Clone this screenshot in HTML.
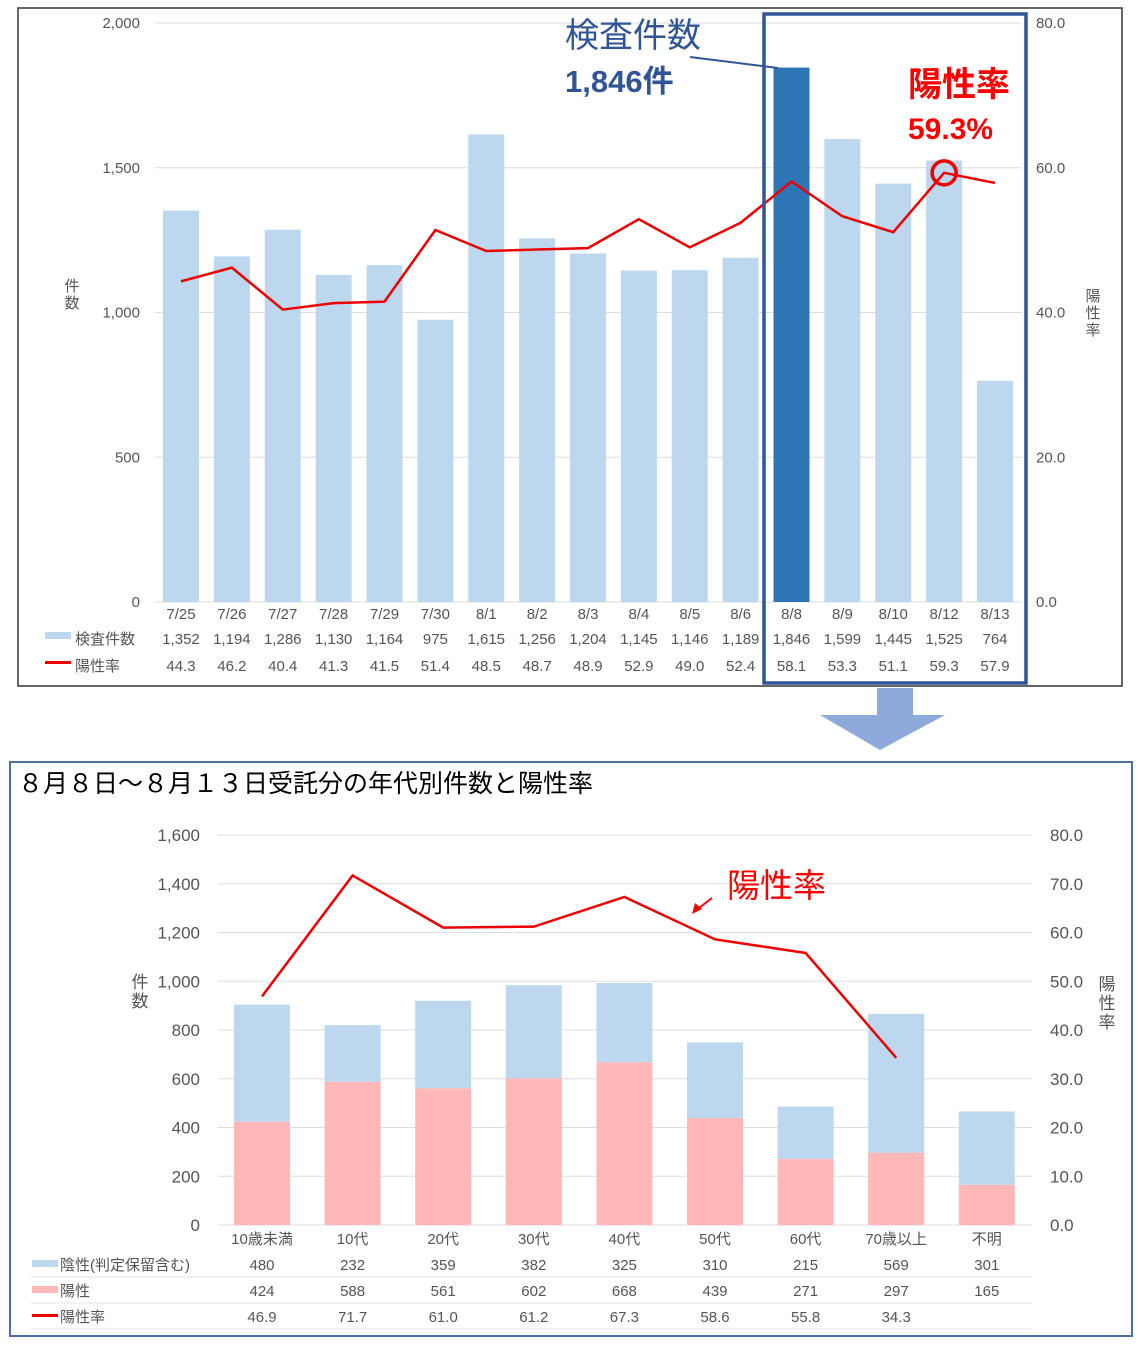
<!DOCTYPE html>
<html><head><meta charset="utf-8"><style>
body{margin:0;background:#fff;font-family:"Liberation Sans","Noto Sans CJK JP",sans-serif;}
svg text{font-family:"Liberation Sans","Noto Sans CJK JP",sans-serif;}
</style></head><body>
<svg id="s" width="1140" height="1344" xmlns="http://www.w3.org/2000/svg">
<rect x="18" y="8" width="1104" height="678" fill="#fff" stroke="#333" stroke-width="1.5"/>
<g id="top"></g>
<rect x="764" y="14" width="262" height="669" fill="none" stroke="#2f5597" stroke-width="3.5"/>
<text x="565" y="47" font-size="34" fill="#2f5597">検査件数</text>
<text x="565" y="92" font-size="31" font-weight="bold" fill="#2f5597">1,846件</text>
<line x1="690" y1="57" x2="778" y2="68" stroke="#2f5597" stroke-width="2"/>
<text x="908" y="96" font-size="34" font-weight="bold" fill="#ff0000">陽性率</text>
<text x="908" y="139" font-size="30" font-weight="bold" fill="#ff0000">59.3%</text>
<polygon points="877,688 913,688 913,715 945,715 880,750 820,715 877,715" fill="#8eaadb"/>
<rect x="10" y="762" width="1122" height="574" fill="#fff" stroke="#4a6fa5" stroke-width="2"/>
<text x="18" y="792" font-size="25" fill="#000">８月８日～８月１３日受託分の年代別件数と陽性率</text>
<g id="bot"></g>
<text x="727" y="897" font-size="33" fill="#ff0000">陽性率</text>
<line x1="712" y1="898" x2="695" y2="911" stroke="#ff0000" stroke-width="2"/>
<polygon points="692,914 695,903 702,909" fill="#ff0000"/>
</svg>
<script>
const NS="http://www.w3.org/2000/svg";
const topDates=["7/25","7/26","7/27","7/28","7/29","7/30","8/1","8/2","8/3","8/4","8/5","8/6","8/8","8/9","8/10","8/12","8/13"];
const topCounts=[1352,1194,1286,1130,1164,975,1615,1256,1204,1145,1146,1189,1846,1599,1445,1525,764];
const topRates=[44.3,46.2,40.4,41.3,41.5,51.4,48.5,48.7,48.9,52.9,49.0,52.4,58.1,53.3,51.1,59.3,57.9];
const topLeftTicks=[0,500,1000,1500,2000];
const topRightTicks=[0,20,40,60,80];
const ages=["10歳未満","10代","20代","30代","40代","50代","60代","70歳以上","不明"];
const negVals=[480,232,359,382,325,310,215,569,301];
const posVals=[424,588,561,602,668,439,271,297,165];
const ageRates=[46.9,71.7,61.0,61.2,67.3,58.6,55.8,34.3,null];
const botLeftTicks=[0,200,400,600,800,1000,1200,1400,1600];
const botRightTicks=[0,10,20,30,40,50,60,70,80];
function el(p,t,a,txt){const e=document.createElementNS(NS,t);for(const k in a)e.setAttribute(k,a[k]);if(txt!==undefined)e.textContent=txt;p.appendChild(e);return e;}
const fmt=v=>v.toLocaleString('en-US');
const T=document.getElementById('top');
const ty=v=>602-v*(579/2000), tyr=v=>602-v*(579/80), tx=i=>181+i*50.875;
topLeftTicks.forEach(v=>{
 const g=el(T,'line',{x1:155,x2:1022,y1:ty(v),y2:ty(v),stroke:'#ddd'});
 
 const t=el(T,'text',{x:140,y:ty(v)+5,'font-size':15,fill:'#555','text-anchor':'end'},fmt(v));
 
});
topRightTicks.forEach(v=>{
 const t=el(T,'text',{x:1036,y:tyr(v)+5,'font-size':15,fill:'#555'},v.toFixed(1));
 
});
topCounts.forEach((v,i)=>{
 const b=el(T,'rect',{x:tx(i)-18,y:ty(v),width:36,height:602-ty(v),fill:topDates[i]==='8/8'?'#2e75b6':'#bdd7ee'});
 
 const d=el(T,'text',{x:tx(i),y:619,'font-size':15,fill:'#555','text-anchor':'middle'},topDates[i]);
 
 const c=el(T,'text',{x:tx(i),y:644,'font-size':15,fill:'#555','text-anchor':'middle'},fmt(v));
 
 const r=el(T,'text',{x:tx(i),y:671,'font-size':15,fill:'#555','text-anchor':'middle'},topRates[i].toFixed(1));
 
});
const tl=el(T,'polyline',{points:topRates.map((v,i)=>tx(i)+','+tyr(v)).join(' '),fill:'none',stroke:'#e00',"stroke-width":2.5});

const ci=el(T,'circle',{cx:tx(15),cy:tyr(topRates[15]),r:12,fill:'none',stroke:'#e00','stroke-width':3.5});

[['rect',{x:45,y:632,width:26,height:7,fill:'#bdd7ee'},'検査件数',644],['rect',{x:45,y:661,width:26,height:3,fill:'#e00'},'陽性率',671]].forEach(([t,a,l,yy])=>{
 const m=el(T,t,a);
 const lt=el(T,'text',{x:75,y:yy,'font-size':15,fill:'#555'},l);
});
const a1=el(T,'text',{x:72,y:291,'font-size':15,fill:'#555','text-anchor':'middle'},'件');
const a2=el(T,'text',{x:72,y:308,'font-size':15,fill:'#555','text-anchor':'middle'},'数');
['陽','性','率'].forEach((c,k)=>{const t=el(T,'text',{x:1093,y:301+k*17,'font-size':15,fill:'#555','text-anchor':'middle'},c);});
const B=document.getElementById('bot');
const by=v=>1225-v*(390/1600), byr=v=>1225-v*(390/80), bx=i=>262+i*90.6;
botLeftTicks.forEach(v=>{
 const g=el(B,'line',{x1:218,x2:1032,y1:by(v),y2:by(v),stroke:'#ddd'});
 
 const t=el(B,'text',{x:200,y:by(v)+6,'font-size':17,fill:'#555','text-anchor':'end'},fmt(v));
 
});
botRightTicks.forEach(v=>{
 const t=el(B,'text',{x:1050,y:byr(v)+6,'font-size':17,fill:'#555'},v.toFixed(1));
 
});
ages.forEach((a,i)=>{
 const p=el(B,'rect',{x:bx(i)-28,y:by(posVals[i]),width:56,height:1225-by(posVals[i]),fill:'#ffb7b7'});
 
 const n=el(B,'rect',{x:bx(i)-28,y:by(posVals[i]+negVals[i]),width:56,height:by(posVals[i])-by(posVals[i]+negVals[i]),fill:'#bdd7ee'});
 
 const l=el(B,'text',{x:bx(i),y:1244,'font-size':15,fill:'#555','text-anchor':'middle'},a);
 
 const c1=el(B,'text',{x:bx(i),y:1270,'font-size':15,fill:'#555','text-anchor':'middle'},negVals[i]);
 
 const c2=el(B,'text',{x:bx(i),y:1296,'font-size':15,fill:'#555','text-anchor':'middle'},posVals[i]);
 
 if(ageRates[i]!==null){const c3=el(B,'text',{x:bx(i),y:1322,'font-size':15,fill:'#555','text-anchor':'middle'},ageRates[i].toFixed(1));
 }
});
[1252,1278,1304].forEach(yy=>{const r=el(B,'line',{x1:30,x2:1032,y1:yy+25,y2:yy+25,stroke:'#e6e6e6'});});
const bl=el(B,'polyline',{points:ageRates.map((v,i)=>v===null?'':bx(i)+','+byr(v)).join(' ').trim(),fill:'none',stroke:'#e00','stroke-width':2.5});

[[{x:32,y:1260,width:26,height:7,fill:'#bdd7ee'},'陰性(判定保留含む)',1270],[{x:32,y:1286,width:26,height:7,fill:'#ffb7b7'},'陽性',1296],[{x:32,y:1314,width:26,height:3,fill:'#e00'},'陽性率',1322]].forEach(([a,l,yy])=>{
 const m=el(B,'rect',a);
 const t=el(B,'text',{x:60,y:yy,'font-size':15,fill:'#555'},l);
});
['件','数'].forEach((c,k)=>{const t=el(B,'text',{x:140,y:988+k*19,'font-size':17,fill:'#555','text-anchor':'middle'},c);});
['陽','性','率'].forEach((c,k)=>{const t=el(B,'text',{x:1107,y:990+k*19,'font-size':17,fill:'#555','text-anchor':'middle'},c);});
</script>
</body></html>
